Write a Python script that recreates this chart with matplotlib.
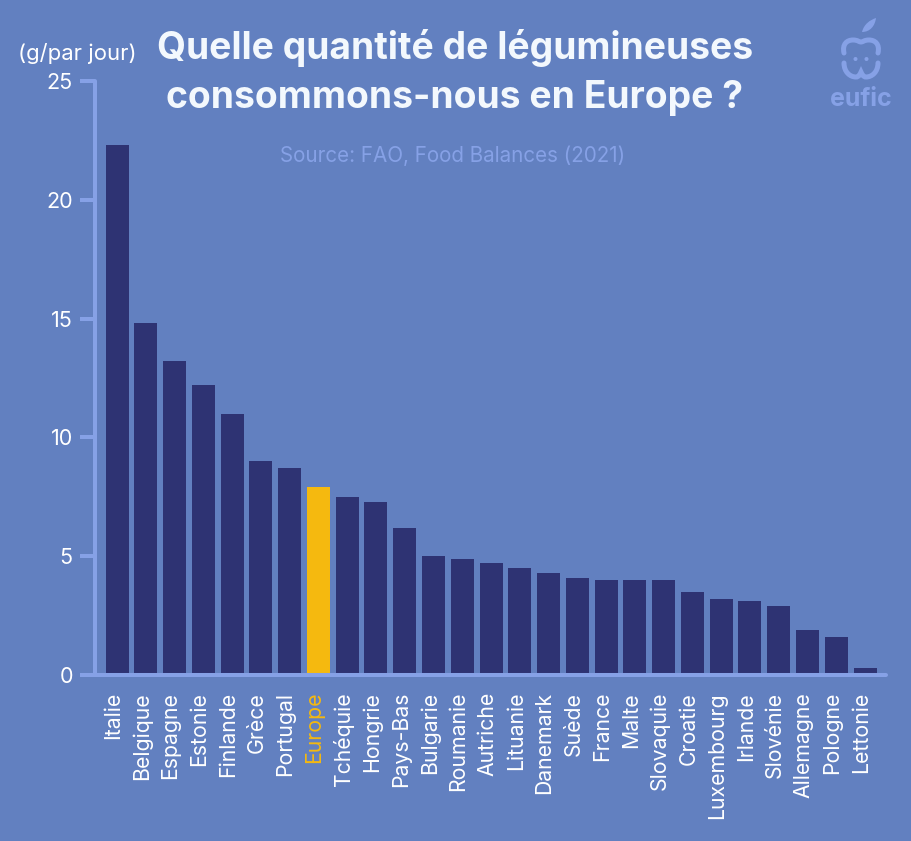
import matplotlib
matplotlib.use('Agg')
import matplotlib.pyplot as plt
from matplotlib.patches import Circle, PathPatch
from matplotlib.path import Path

countries = ['Italie','Belgique','Espagne','Estonie','Finlande','Grèce','Portugal','Europe','Tchéquie','Hongrie','Pays-Bas','Bulgarie','Roumanie','Autriche','Lituanie','Danemark','Suède','France','Malte','Slovaquie','Croatie','Luxembourg','Irlande','Slovénie','Allemagne','Pologne','Lettonie']
values = [22.3,14.8,13.2,12.2,11.0,9.0,8.7,7.9,7.5,7.3,6.2,5.0,4.9,4.7,4.5,4.3,4.1,4.0,4.0,4.0,3.5,3.2,3.1,2.9,1.9,1.6,0.3]
yticks = [0,5,10,15,20,25]
highlight = 'Europe'

BG='#6280c0'; BAR='#2e3373'; GOLD='#f5b90f'; AX='#86a1e6'; W='#ffffff'; TITLE='#f3f8fd'
W_PX,H_PX=911,841
plt.rcParams['font.family']=['Inter','DejaVu Sans']
fig=plt.figure(figsize=(W_PX/100,H_PX/100),dpi=100,facecolor=BG)
L,R=95,886
ax=fig.add_axes([L/W_PX,1-675/H_PX,(R-L)/W_PX,(675-81)/H_PX],facecolor='none')
x=list(range(len(countries)))
colors=[GOLD if c==highlight else BAR for c in countries]
ax.bar(x,values,width=0.8,color=colors,zorder=2)
ax.set_xlim(-0.765,-0.765+(R-L)/28.77); ax.set_ylim(0,25)
for s in ['top','right']: ax.spines[s].set_visible(False)
for s in ['left','bottom']:
    ax.spines[s].set_color(AX); ax.spines[s].set_linewidth(2.9); ax.spines[s].set_capstyle('round')
    ax.spines[s].set_zorder(3)
ax.set_yticks(yticks)
ax.set_xticks([])
for xi,c in zip(x,countries):
    ax.annotate(c,xy=(xi,0),xycoords=('data','axes fraction'),xytext=(-2.9,-12.2),textcoords='offset points',
                rotation=90,ha='center',va='top',fontsize=15.3,color=GOLD if c==highlight else W,annotation_clip=False)
ax.tick_params(axis='y',length=11,width=2.9,color=AX,labelcolor=W,labelsize=15.5,pad=5)

fig.text(77.5/W_PX,1-54/H_PX,'(g/par jour)',color=W,fontsize=15.9,ha='center',va='center')
fig.text(455/W_PX,1-48/H_PX,'Quelle quantité de légumineuses',color=TITLE,fontsize=26.8,fontweight='bold',ha='center',va='center')
fig.text(455/W_PX,1-98/H_PX,'consommons-nous en Europe ?',color=TITLE,fontsize=26.8,fontweight='bold',ha='center',va='center')
fig.text(453/W_PX,1-156/H_PX,'Source: FAO, Food Balances (2021)',color=AX,fontsize=14.85,ha='center',va='center')

# logo in pixel coordinates
lg=fig.add_axes([0,0,1,1],facecolor='none'); lg.set_xlim(0,W_PX); lg.set_ylim(H_PX,0); lg.axis('off')
LOGO='#86a1e6'
leaf=Path([(862,32),(864,24),(870,20),(876,18),(875,26),(870,32),(862,32)],[1,4,4,4,4,4,4])
lg.add_patch(PathPatch(leaf,fc=LOGO,ec='none'))
top=Path([(844,53),(842,44),(847,40),(853,40),(858,40),(859,42),(861,42),(863,42),(864,40),(869,40),(875,40),(880,44),(878,53)],[1,4,4,4,4,4,4,4,4,4,4,4,4])
bot=Path([(844,63),(844,72),(850,77),(856,77),(859,77),(860,74),(861,72),(862,74),(863,77),(866,77),(872,77),(878,72),(878,63)],[1,4,4,4,4,4,4,4,4,4,4,4,4])
for p in (top,bot):
    lg.add_patch(PathPatch(p,fc='none',ec=LOGO,lw=3.6,capstyle='round'))
lg.add_patch(Circle((855.5,59),2,fc=LOGO,ec='none'))
lg.add_patch(Circle((866.5,59),2,fc=LOGO,ec='none'))
lg.text(861,99,'eufic',color=LOGO,fontsize=18,fontweight='bold',ha='center',va='center')
fig.savefig('out.png',dpi=100,facecolor=BG)
